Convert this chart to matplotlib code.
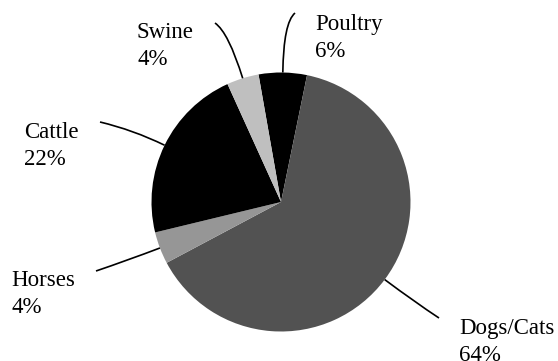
import numpy as np
import matplotlib.pyplot as plt
from matplotlib.path import Path
from matplotlib.patches import PathPatch

labels = ['Poultry', 'Dogs/Cats', 'Horses', 'Cattle', 'Swine']
values = [6, 64, 4, 22, 4]
colors = ['#000000', '#525252', '#969696', '#000000', '#bfbfbf']

W, H = 558, 361
# text anchor (left, last-line baseline) and leader line end, in image pixels
text_pos = [(315, 57), (459, 361), (11, 313), (24, 165), (137, 65)]
line_end = [(295, 13), (439, 318), (96, 271), (100, 122), (215, 23)]
ctrl_len = [50, 38, 35, 35, 48]

cx, cy, r = 281, H - 202, 129.5

fig = plt.figure(figsize=(W / 100, H / 100), dpi=100)
ax = fig.add_axes([0, 0, 1, 1])
wedges, _ = ax.pie(values, colors=colors, startangle=100, counterclock=False,
                   center=(cx, cy), radius=r, wedgeprops=dict(linewidth=0))
ax.set_xlim(0, W)
ax.set_ylim(0, H)
ax.set_aspect('equal')
ax.axis('off')

for i, w in enumerate(wedges):
    mid = np.deg2rad((w.theta1 + w.theta2) / 2)
    d = np.array([np.cos(mid), np.sin(mid)])
    p0 = np.array([cx, cy]) + r * d
    p1 = p0 + ctrl_len[i] * d
    p2 = np.array([line_end[i][0], H - line_end[i][1]])
    path = Path([p0, p1, p2], [Path.MOVETO, Path.CURVE3, Path.CURVE3])
    ax.add_patch(PathPatch(path, fill=False, lw=1.2, color='black'))
    tx, ty = text_pos[i]
    ax.text(tx, H - ty, f'{labels[i]}\n{values[i]}%', ha='left', va='baseline',
            fontsize=16.5, family='Liberation Serif', linespacing=1.4)

fig.savefig('out.png', dpi=100)
